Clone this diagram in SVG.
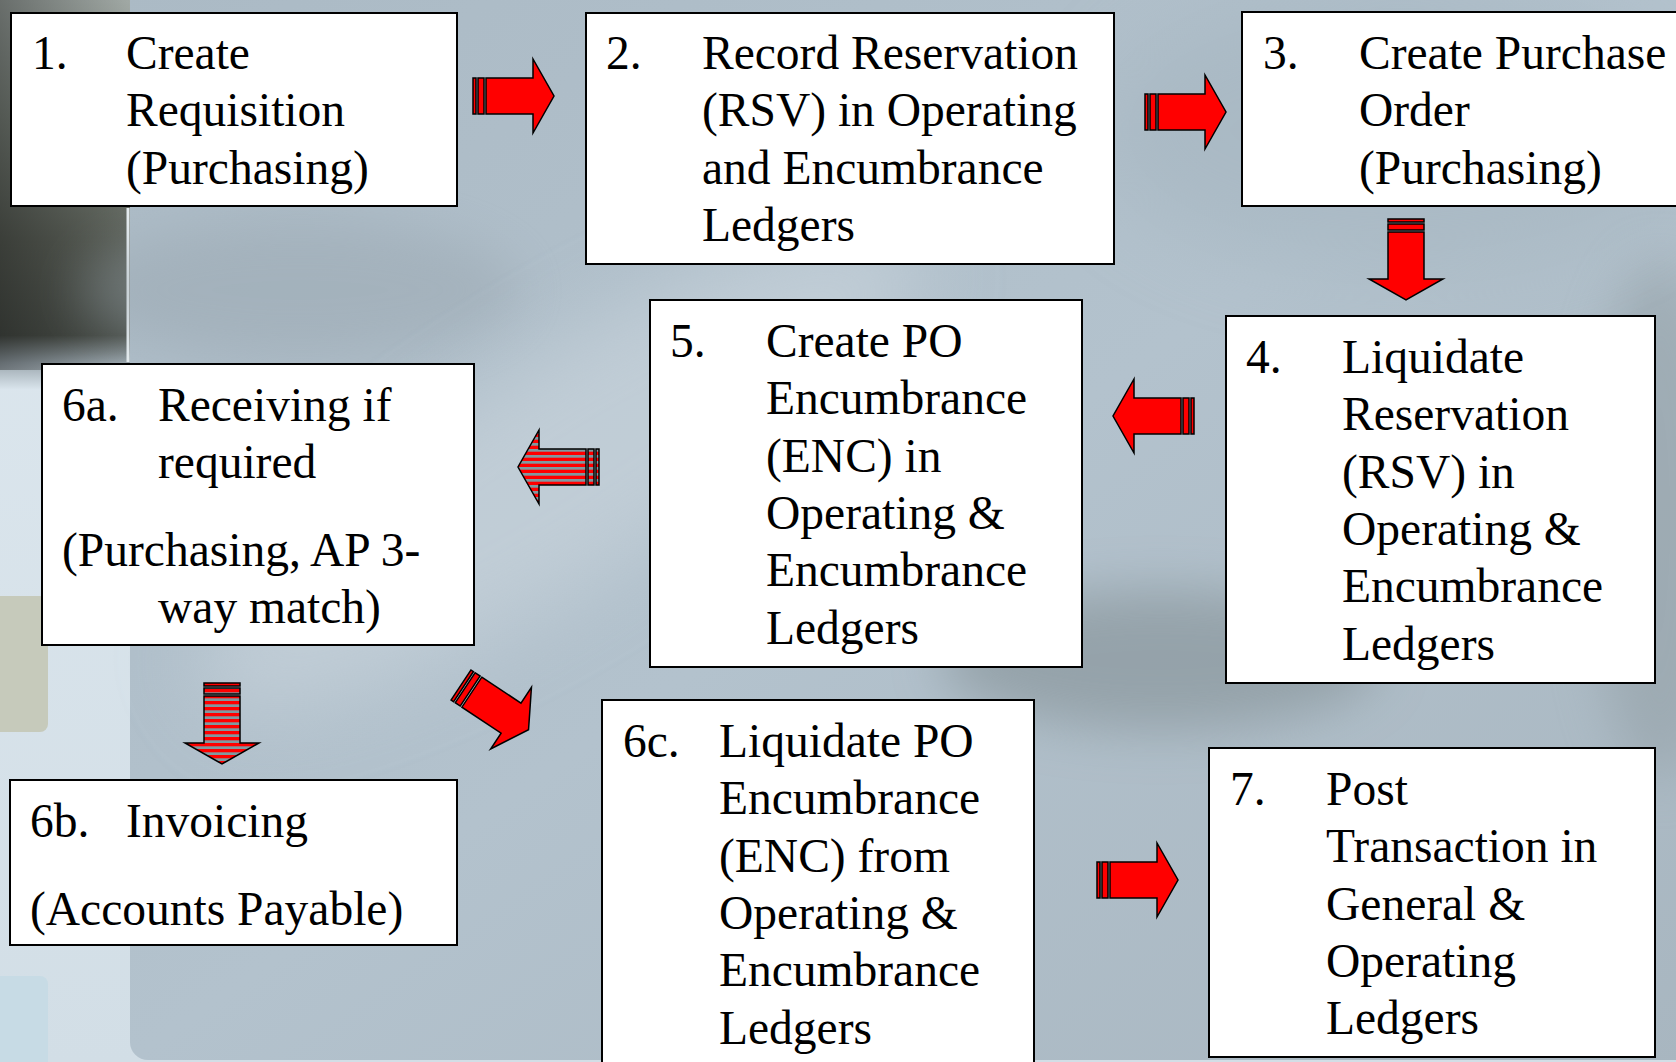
<svg xmlns="http://www.w3.org/2000/svg" width="1676" height="1062" viewBox="0 0 1676 1062">
<defs>
<style>
.box{fill:#fff;stroke:#000;stroke-width:2}
.t{font-family:"Liberation Serif","Times New Roman",serif;font-size:47.5px;fill:#000}
.arr{stroke:#000;stroke-width:1.5;stroke-linejoin:miter}
</style>
<linearGradient id="leftDark" x1="0" y1="0" x2="0" y2="1">
<stop offset="0" stop-color="#a1a9a5"/>
<stop offset="0.3" stop-color="#7f877f"/>
<stop offset="0.62" stop-color="#5a5f57"/>
<stop offset="0.86" stop-color="#4a4f49"/>
<stop offset="0.93" stop-color="#9aa6ad"/>
<stop offset="1" stop-color="#dbe6ee"/>
</linearGradient>
<linearGradient id="leftShade" x1="0" y1="0" x2="1" y2="0">
<stop offset="0" stop-color="#000" stop-opacity="0.35"/>
<stop offset="1" stop-color="#000" stop-opacity="0"/>
</linearGradient>
<linearGradient id="pageGrad" x1="0" y1="0" x2="0" y2="1">
<stop offset="0" stop-color="#dfe9f0"/>
<stop offset="1" stop-color="#d2dee6"/>
</linearGradient>
<linearGradient id="mainGrad" x1="0" y1="0" x2="1" y2="1">
<stop offset="0" stop-color="#abbac5"/>
<stop offset="0.5" stop-color="#b3c2cd"/>
<stop offset="1" stop-color="#a8b6c0"/>
</linearGradient>
<filter id="blur40" x="-50%" y="-50%" width="200%" height="200%"><feGaussianBlur stdDeviation="40"/></filter>
<filter id="blur25" x="-50%" y="-50%" width="200%" height="200%"><feGaussianBlur stdDeviation="25"/></filter>
<pattern id="stripeH" width="10" height="6" patternUnits="userSpaceOnUse"><rect width="10" height="6" fill="#8099a0"/><rect width="10" height="3.3" fill="#ff0000"/></pattern>
<pattern id="stripeV" width="6" height="10" patternUnits="userSpaceOnUse"><rect width="6" height="10" fill="#8099a0"/><rect width="3.3" height="10" fill="#ff0000"/></pattern>
<g id="arw">
<rect x="0" y="-18" width="3" height="36"/>
<rect x="5" y="-18" width="6" height="36"/>
<path d="M13,-18H60V-37L81,0L60,37V18H13Z"/>
</g>
</defs>

<g id="background">
<rect x="0" y="0" width="1676" height="1062" fill="url(#pageGrad)"/>
<rect x="-20" y="596" width="68" height="136" rx="8" fill="#c6cabb"/>
<rect x="-20" y="976" width="68" height="120" rx="8" fill="#c7dbe5"/>
<rect x="0" y="0" width="130" height="390" fill="url(#leftDark)"/>
<rect x="0" y="0" width="130" height="370" fill="url(#leftShade)"/>
<line x1="128" y1="208" x2="128" y2="362" stroke="#e6edf0" stroke-width="3"/>
<rect x="130" y="-20" width="1566" height="1080" rx="18" fill="url(#mainGrad)"/>
<ellipse cx="300" cy="290" rx="220" ry="70" fill="#95a2ab" opacity="0.4" filter="url(#blur25)"/>
<ellipse cx="560" cy="470" rx="420" ry="110" fill="#cbd6de" opacity="0.6" filter="url(#blur40)" transform="rotate(-32 560 470)"/>
<ellipse cx="1160" cy="660" rx="220" ry="70" fill="#8a979d" opacity="0.7" filter="url(#blur25)"/>
<ellipse cx="1660" cy="520" rx="70" ry="260" fill="#8f9ba1" opacity="0.5" filter="url(#blur25)"/>
<ellipse cx="1400" cy="130" rx="300" ry="140" fill="#a3b3be" opacity="0.5" filter="url(#blur40)"/>
</g>

<g id="connectors">
<use href="#arw" class="arr" fill="#ff0000" transform="translate(473,96)"/>
<use href="#arw" class="arr" fill="#ff0000" transform="translate(1145,112)"/>
<use href="#arw" class="arr" fill="#ff0000" transform="translate(1406,219) rotate(90)"/>
<use href="#arw" class="arr" fill="#ff0000" transform="translate(1194,416) rotate(180)"/>
<use href="#arw" class="arr" fill="url(#stripeH)" transform="translate(599,467) rotate(180)"/>
<use href="#arw" class="arr" fill="url(#stripeV)" transform="translate(222,683) rotate(90)"/>
<use href="#arw" class="arr" fill="#ff0000" transform="translate(461,685) rotate(33.5)"/>
<use href="#arw" class="arr" fill="#ff0000" transform="translate(1097,880)"/>
</g>

<g id="node1">
<rect class="box" x="11" y="13" width="446" height="193"/>
<text class="t" x="32" y="69">1.</text>
<text class="t"><tspan x="126" y="69">Create</tspan><tspan x="126" y="126.3">Requisition</tspan><tspan x="126" y="183.6">(Purchasing)</tspan></text>
</g>

<g id="node2">
<rect class="box" x="586" y="13" width="528" height="251"/>
<text class="t" x="606" y="69">2.</text>
<text class="t"><tspan x="702" y="69">Record Reservation</tspan><tspan x="702" y="126.3">(RSV) in Operating</tspan><tspan x="702" y="183.6">and Encumbrance</tspan><tspan x="702" y="240.9">Ledgers</tspan></text>
</g>

<g id="node3">
<rect class="box" x="1242" y="12" width="460" height="194"/>
<text class="t" x="1263" y="69">3.</text>
<text class="t"><tspan x="1359" y="69">Create Purchase</tspan><tspan x="1359" y="126.3">Order</tspan><tspan x="1359" y="183.6">(Purchasing)</tspan></text>
</g>

<g id="node4">
<rect class="box" x="1226" y="316" width="429" height="367"/>
<text class="t" x="1246" y="373">4.</text>
<text class="t"><tspan x="1342" y="373">Liquidate</tspan><tspan x="1342" y="430.3">Reservation</tspan><tspan x="1342" y="487.6">(RSV) in</tspan><tspan x="1342" y="544.9">Operating &amp;</tspan><tspan x="1342" y="602.2">Encumbrance</tspan><tspan x="1342" y="659.5">Ledgers</tspan></text>
</g>

<g id="node5">
<rect class="box" x="650" y="300" width="432" height="367"/>
<text class="t" x="670" y="357">5.</text>
<text class="t"><tspan x="766" y="357">Create PO</tspan><tspan x="766" y="414.3">Encumbrance</tspan><tspan x="766" y="471.6">(ENC) in</tspan><tspan x="766" y="528.9">Operating &amp;</tspan><tspan x="766" y="586.2">Encumbrance</tspan><tspan x="766" y="643.5">Ledgers</tspan></text>
</g>

<g id="node6a">
<rect class="box" x="42" y="364" width="432" height="281"/>
<text class="t" x="62" y="421">6a.</text>
<text class="t"><tspan x="158" y="421">Receiving if</tspan><tspan x="158" y="478.3">required</tspan></text>
<text class="t"><tspan x="62" y="566">(Purchasing, AP 3-</tspan><tspan x="158" y="623.3">way match)</tspan></text>
</g>

<g id="node6b">
<rect class="box" x="10" y="780" width="447" height="165"/>
<text class="t" x="30" y="837">6b.</text>
<text class="t" x="126" y="837">Invoicing</text>
<text class="t" x="30" y="924.7">(Accounts Payable)</text>
</g>

<g id="node6c">
<rect class="box" x="602" y="700" width="432" height="380"/>
<text class="t" x="623" y="757">6c.</text>
<text class="t"><tspan x="719" y="757">Liquidate PO</tspan><tspan x="719" y="814.3">Encumbrance</tspan><tspan x="719" y="871.6">(ENC) from</tspan><tspan x="719" y="928.9">Operating &amp;</tspan><tspan x="719" y="986.2">Encumbrance</tspan><tspan x="719" y="1043.5">Ledgers</tspan></text>
</g>

<g id="node7">
<rect class="box" x="1209" y="748" width="446" height="309"/>
<text class="t" x="1230" y="805">7.</text>
<text class="t"><tspan x="1326" y="805">Post</tspan><tspan x="1326" y="862.3">Transaction in</tspan><tspan x="1326" y="919.6">General &amp;</tspan><tspan x="1326" y="976.9">Operating</tspan><tspan x="1326" y="1034.2">Ledgers</tspan></text>
</g>
</svg>
